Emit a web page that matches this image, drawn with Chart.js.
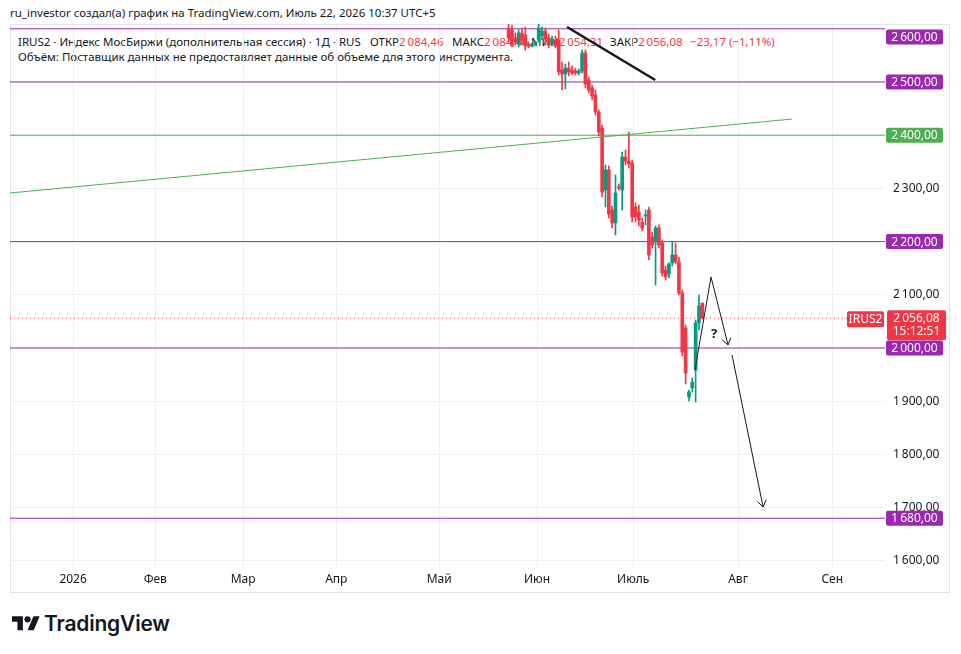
<!DOCTYPE html>
<html lang="ru">
<head>
<meta charset="utf-8">
<title>IRUS2 · TradingView</title>
<script src="https://cdn.jsdelivr.net/npm/chart.js@4.4.1/dist/chart.umd.min.js"></script>
<style>
  html, body { margin: 0; padding: 0; background: #fff; }
  body { width: 961px; height: 654px; position: relative; overflow: hidden; font-family: "Noto Sans", sans-serif; color: #131722; }
  canvas { position: absolute; left: 0; top: 0; z-index: 2; }
  .txt { position: absolute; white-space: nowrap; z-index: 1; line-height: 16px; font-size: 11.5px; }
  .lg { top: 34px; }
  .r { color: #f23645; }
  #title { left: 10px; top: 5px; }
  #l2 { left: 18px; top: 49px; }
  #logo { position: absolute; left: 12px; top: 613px; z-index: 1; }
  #brand { left: 44px; top: 610px; font-family: Inter, sans-serif; font-weight: 600; font-size: 21px; line-height: 28px; letter-spacing: -0.2px; }
</style>
</head>
<body>
<div class="txt" id="title">ru_investor создал(а) график на TradingView.com, Июль 22, 2026 10:37 UTC+5</div>
<div class="txt lg" style="left:18px">IRUS2 · Индекс МосБиржи (дополнительная сессия) · 1Д · RUS</div>
<div class="txt lg" style="left:370px">ОТКР<span class="r">2&#8201;084,46</span></div>
<div class="txt lg" style="left:452px">МАКС<span class="r">2&#8201;084,46</span></div>
<div class="txt lg" style="left:531px">МИН<span class="r">2&#8201;054,31</span></div>
<div class="txt lg" style="left:610px">ЗАКР<span class="r">2&#8201;056,08</span></div>
<div class="txt lg r" style="left:690px">−23,17 (−1,11%)</div>
<div class="txt" id="l2">Объём: Поставщик данных не предоставляет данные об объеме для этого инструмента.</div>
<svg id="logo" width="28" height="22" viewBox="0 0 36 28"><path fill="#131722" d="M14 22H7V11H0V4h14v18zM28 22h-8l7.5-18h8L28 22z"/><circle fill="#131722" cx="20" cy="8" r="4"/></svg>
<div class="txt" id="brand">TradingView</div>
<canvas id="chart" width="961" height="654"></canvas>
<script>
// daily candles, one slot per bar (slot 0 = first bar, late May)
const candleOpen  = [2601.5, 2597.7, 2582.7, 2571.4, 2592.1, 2588.3, 2569.5, 2567.7, 2571.4, 2578.9,
                     2586.5, 2595.9, 2582.7, 2571.4, 2578.9, 2578.9, 2522.5, 2515.0, 2526.3, 2522.5,
                     2520.7, 2516.9, 2520.7, 2554.5, 2503.8, 2488.7, 2475.6, 2443.6, 2413.5, 2297.0,
                     2334.6, 2259.4, 2235.0, 2302.6, 2297.0, 2359.0, 2351.5, 2347.7, 2265.0, 2255.6,
                     2236.8, 2248.1, 2259.4, 2208.6, 2199.2, 2225.6, 2197.4, 2146.6, 2139.1, 2159.8,
                     2174.8, 2161.7, 2103.4, 2037.6, 1907.9, 1924.8, 1958.6, 2047.0, 2084.46];
const candleHigh  = [2609.0, 2607.0, 2592.1, 2597.7, 2601.5, 2603.4, 2575.2, 2573.3, 2577.1, 2609.0,
                     2603.4, 2601.5, 2590.2, 2586.5, 2586.5, 2597.7, 2537.6, 2533.8, 2537.6, 2530.1,
                     2526.3, 2524.4, 2560.2, 2560.2, 2509.4, 2494.4, 2485.0, 2447.4, 2419.2, 2344.0,
                     2342.1, 2266.9, 2325.2, 2308.3, 2368.4, 2372.2, 2406.0, 2353.4, 2272.6, 2268.8,
                     2244.4, 2259.4, 2265.0, 2218.0, 2229.3, 2231.2, 2203.0, 2154.1, 2160.0, 2199.2,
                     2197.4, 2171.1, 2109.0, 2043.2, 1921.1, 1943.6, 2052.6, 2099.6, 2084.46];
const candleLow   = [2575.2, 2565.8, 2569.5, 2565.8, 2569.5, 2560.2, 2563.9, 2565.8, 2567.7, 2575.2,
                     2578.9, 2569.5, 2563.9, 2567.7, 2563.9, 2513.2, 2485.0, 2486.8, 2511.3, 2513.2,
                     2513.2, 2513.2, 2516.9, 2488.7, 2479.3, 2466.2, 2438.0, 2398.5, 2283.8, 2265.0,
                     2244.4, 2225.6, 2212.4, 2297.0, 2259.4, 2344.0, 2338.3, 2236.8, 2236.8, 2229.3,
                     2219.9, 2231.2, 2165.4, 2188.0, 2118.4, 2188.0, 2135.3, 2127.8, 2131.6, 2154.1,
                     2157.9, 2099.6, 1985.0, 1932.3, 1900.4, 1917.3, 1898.5, 2033.8, 2054.31];
const candleClose = [2582.7, 2571.4, 2575.2, 2592.1, 2578.9, 2567.7, 2567.7, 2571.4, 2575.2, 2601.5,
                     2595.9, 2580.8, 2569.5, 2580.8, 2567.7, 2518.8, 2515.0, 2526.3, 2518.8, 2516.9,
                     2516.9, 2520.7, 2554.5, 2496.2, 2485.0, 2473.7, 2443.6, 2406.0, 2293.2, 2334.6,
                     2251.9, 2235.0, 2291.4, 2300.8, 2359.0, 2351.5, 2345.9, 2246.2, 2246.2, 2240.6,
                     2225.6, 2250.0, 2174.8, 2193.6, 2225.6, 2193.6, 2141.0, 2133.5, 2157.9, 2174.8,
                     2161.7, 2103.4, 1992.5, 1953.0, 1917.3, 1936.1, 2047.0, 2079.25, 2056.08];

// time axis: month labels and where they fall, in bar slots
const monthLabels = ['2026', 'Фев', 'Мар', 'Апр', 'Май', 'Июн', 'Июль', 'Авг', 'Сен'];
const monthSlots  = [-130.4, -105.8, -79.5, -51.6, -20.8, 8.5, 37.3, 68.7, 96.9];
const priceTicks  = [1600, 1700, 1800, 1900, 2000, 2100, 2200, 2300, 2400, 2500, 2600];

// drawings on the chart
const purpleLevels = [2600, 2500, 2200, 2000, 1680];
const greenLevel = 2400;
const lastPrice = 2056.08;
const trendGreen = [{ x: -149.3, y: 2291.4 }, { x: 84.9, y: 2430.4 }];
const trendBlack = [{ x: 17.5, y: 2603.4 }, { x: 43.9, y: 2503.8 }];
const arrowZigzag = [{ x: 55.8, y: 1958.6 }, { x: 60.6, y: 2133.5 }, { x: 65.7, y: 2005.6 }];
const arrowDown = [{ x: 66.9, y: 1986.8 }, { x: 76.2, y: 1701.1 }];
const questionMark = { x: 61.5, y: 2026.3 };

const X_MIN = -149.3, X_MAX = 112.7;
const Y_MIN = 1586.5, Y_MAX = 2609;
const UP = '#089981', DOWN = '#f23645', PURPLE = '#9c27b0', GREEN = '#4caf50', INK = '#131722';
const FONT = '"Noto Sans", sans-serif';

function fmtPrice(v) {
    const parts = v.toFixed(2).split('.');
    return parts[0].replace(/\B(?=(\d{3})+(?!\d))/g, '\u2009') + ',' + parts[1];
}

const candleColor = candleOpen.map((o, i) => candleClose[i] >= o ? UP : DOWN);
const bodies = candleOpen.map((o, i) => ({ x: i, y: [o, candleClose[i]] }));
const wicks = candleLow.map((l, i) => ({ x: i, y: [l, candleHigh[i]] }));

function flatLine(price, color, extra) {
    return Object.assign({
        type: 'line',
        data: [{ x: X_MIN, y: price }, { x: X_MAX, y: price }],
        borderColor: color, borderWidth: 1, pointRadius: 0, order: 4
    }, extra || {});
}

function drawing(points, width, extra) {
    return Object.assign({
        type: 'line', data: points, borderColor: INK, borderWidth: width,
        pointRadius: 0, tension: 0, order: 0
    }, extra || {});
}

function roundBox(ctx, x, y, w, h, r, fill) {
    ctx.beginPath();
    ctx.roundRect(x, y, w, h, r);
    ctx.fillStyle = fill;
    ctx.fill();
}

const overlay = {
    id: 'overlay',
    beforeDraw(chart) {
        const ctx = chart.ctx, a = chart.chartArea;
        ctx.save();
        ctx.strokeStyle = '#e0e3eb';
        ctx.lineWidth = 1;
        ctx.strokeRect(a.left + 0.5, a.top + 0.5, chart.scales.y.right - a.left - 1, chart.scales.x.bottom - a.top);
        ctx.restore();
    },
    afterDraw(chart) {
        const ctx = chart.ctx, a = chart.chartArea;
        const xs = chart.scales.x, ys = chart.scales.y;
        ctx.save();

        // arrow heads
        chart.data.datasets.forEach((ds, i) => {
            if (!ds.arrow) return;
            const pts = chart.getDatasetMeta(i).data;
            const p1 = pts[pts.length - 2], p2 = pts[pts.length - 1];
            const ang = Math.atan2(p2.y - p1.y, p2.x - p1.x);
            ctx.strokeStyle = INK;
            ctx.lineWidth = 1;
            ctx.beginPath();
            [-0.6, 0.6].forEach(d => {
                ctx.moveTo(p2.x, p2.y);
                ctx.lineTo(p2.x - 8 * Math.cos(ang + d), p2.y - 8 * Math.sin(ang + d));
            });
            ctx.stroke();
        });

        // question mark
        ctx.fillStyle = INK;
        ctx.font = 'bold 13px ' + FONT;
        ctx.textAlign = 'center';
        ctx.textBaseline = 'middle';
        ctx.fillText('?', xs.getPixelForValue(questionMark.x), ys.getPixelForValue(questionMark.y));

        // level labels on the price scale
        ctx.font = '12px ' + FONT;
        const levels = purpleLevels.map(p => [p, PURPLE]).concat([[greenLevel, GREEN]]);
        levels.forEach(([p, color]) => {
            const yc = Math.max(ys.getPixelForValue(p), a.top + 13);
            roundBox(ctx, a.right + 1, yc - 7.5, 57, 15, 2, color);
            ctx.fillStyle = '#fff';
            ctx.fillText(fmtPrice(p), a.right + 29.5, yc + 0.5);
        });

        // last price box + symbol tag
        const yp = ys.getPixelForValue(lastPrice);
        roundBox(ctx, a.right + 2, yp - 8, 59, 30, 2, DOWN);
        roundBox(ctx, a.right - 38, yp - 7, 37, 16, 2, DOWN);
        ctx.fillStyle = '#fff';
        ctx.fillText(fmtPrice(lastPrice), a.right + 31.5, yp);
        ctx.fillText('15:12:51', a.right + 31.5, yp + 13);
        ctx.fillText('IRUS2', a.right - 19.5, yp + 1);
        ctx.restore();
    }
};

new Chart(document.getElementById('chart'), {
    type: 'bar',
    data: {
        datasets: [
            { data: bodies, backgroundColor: candleColor, barThickness: 3, minBarLength: 1, grouped: false, order: 2 },
            { data: wicks, backgroundColor: candleColor, barThickness: 1, grouped: false, order: 3 },
            ...purpleLevels.map(p => flatLine(p, PURPLE)),
            flatLine(greenLevel, GREEN),
            flatLine(lastPrice, DOWN, { borderDash: [1, 3] }),
            drawing(trendGreen, 1, { borderColor: GREEN }),
            drawing(trendBlack, 2.5),
            drawing(arrowZigzag, 1, { arrow: true }),
            drawing(arrowDown, 1, { arrow: true })
        ]
    },
    options: {
        responsive: false,
        animation: false,
        layout: { padding: { left: 10, right: 11, top: 24, bottom: 62 } },
        plugins: { legend: { display: false }, tooltip: { enabled: false } },
        scales: {
            x: {
                type: 'linear', min: X_MIN, max: X_MAX, offset: false,
                afterBuildTicks: s => { s.ticks = monthSlots.map(v => ({ value: v })); },
                afterFit: s => { s.height = 24; },
                grid: { color: '#eef0f4', drawTicks: false, offset: false },
                border: { display: false },
                ticks: {
                    autoSkip: false, maxRotation: 0, padding: 4, color: INK,
                    font: { family: FONT, size: 12 },
                    callback: (v, i) => monthLabels[i]
                }
            },
            y: {
                position: 'right', min: Y_MIN, max: Y_MAX,
                afterBuildTicks: s => { s.ticks = priceTicks.map(v => ({ value: v })); },
                afterFit: s => { s.width = 65; },
                grid: { color: '#eef0f4', drawTicks: false },
                border: { display: false },
                ticks: {
                    padding: 8, color: INK,
                    font: { family: FONT, size: 12 },
                    // top tick sits under its level box
                    callback: v => v >= 2600 ? '' : fmtPrice(v)
                }
            }
        }
    },
    plugins: [overlay]
});
</script>
</body>
</html>
